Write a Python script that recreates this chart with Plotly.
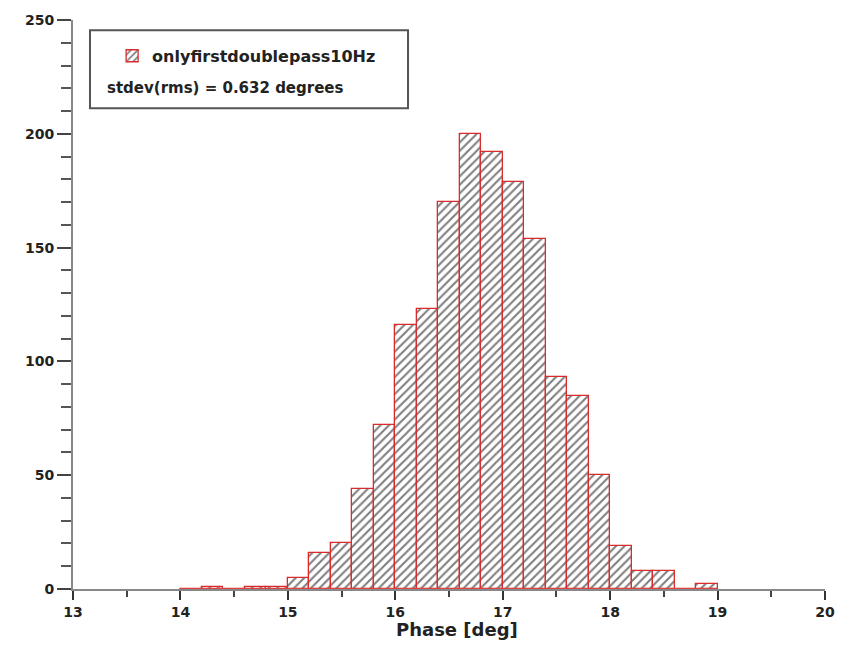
import numpy as np
import plotly.graph_objects as go

# Histogram data: bin left edges (deg) and counts
bin_width = 0.2
bin_starts = [14.0, 14.2, 14.4, 14.6, 14.8, 15.0, 15.2, 15.4, 15.6, 15.8,
              16.0, 16.2, 16.4, 16.6, 16.8, 17.0, 17.2, 17.4, 17.6, 17.8,
              18.0, 18.2, 18.4, 18.6, 18.8]
counts = [0, 1, 0, 1, 1, 5, 16, 20, 44, 72,
          116, 123, 170, 200, 192, 179, 154, 93, 85, 50,
          19, 8, 8, 0, 2]
x_ticks = [13, 14, 15, 16, 17, 18, 19, 20]
y_ticks = [0, 50, 100, 150, 200, 250]
series_name = "onlyfirstdoublepass10Hz"
stat_text = "stdev(rms) = 0.632 degrees"
x_title = "Phase [deg]"

centers = [s + bin_width / 2 for s in bin_starts]
edge_min = bin_starts[0]
edge_max = bin_starts[-1] + bin_width

RED = "#d92b2b"
FONT = "DejaVu Sans"

fig = go.Figure()
fig.add_trace(go.Scatter(
    x=[edge_min, edge_max], y=[0, 0], mode="lines",
    line=dict(color="rgba(230,80,80,0.6)", width=2),
    showlegend=False, hoverinfo="skip"))
fig.add_trace(go.Bar(
    x=centers, y=counts, width=bin_width, name="<b>" + series_name + "</b>",
    marker=dict(color="white",
                line=dict(color=RED, width=1.3),
                pattern=dict(shape="/", fgcolor="black", bgcolor="white",
                             size=6, solidity=0.35)),
    showlegend=True))

fig.update_layout(
    width=854, height=667,
    margin=dict(l=65, r=37, t=12, b=86),
    paper_bgcolor="white", plot_bgcolor="white",
    bargap=0,
    showlegend=True,
    legend=dict(x=0.052, y=0.937, xanchor="left", yanchor="middle",
                bgcolor="rgba(0,0,0,0)", borderwidth=0,
                font=dict(family=FONT, size=16, color="#222")),
    xaxis=dict(range=[13, 20], tickvals=x_ticks, ticktext=[str(v) for v in x_ticks],
               automargin=False,
               ticks="outside", ticklen=9, tickwidth=2, tickcolor="#333",
               minor=dict(dtick=0.5, ticks="outside", ticklen=6, tickwidth=2, tickcolor="#444"),
               showline=True, linecolor="#888", linewidth=2,
               showgrid=False, zeroline=False,
               tickfont=dict(family=FONT, size=14, color="#222", weight="bold")),
    yaxis=dict(range=[0, 250], tickvals=y_ticks,
               automargin=False,
               ticks="outside", ticklen=14, tickwidth=2, tickcolor="#444",
               minor=dict(dtick=10, ticks="outside", ticklen=10, tickwidth=2, tickcolor="#555"),
               showline=True, linecolor="#888", linewidth=2,
               showgrid=False, zeroline=False,
               tickfont=dict(family=FONT, size=14, color="#222", weight="bold")),
    shapes=[dict(type="rect", xref="paper", yref="paper",
                 x0=0.0226, x1=0.4455, y0=0.845, y1=0.982,
                 line=dict(color="#555", width=2), fillcolor="white", layer="below")],
    annotations=[
        dict(text="<b>" + stat_text + "</b>", xref="paper", yref="paper",
             x=0.0426, y=0.880, xanchor="left", yanchor="middle",
             showarrow=False, font=dict(family=FONT, size=15, color="#222")),
        dict(text="<b>" + x_title + "</b>", xref="paper", yref="paper",
             x=0.511, y=-0.072, xanchor="center", yanchor="middle",
             showarrow=False, font=dict(family=FONT, size=18, color="#222")),
    ],
)

fig.write_html("out.html")
